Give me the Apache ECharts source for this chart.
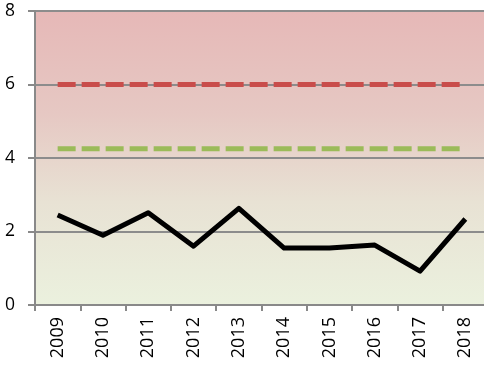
<!DOCTYPE html>
<html>
<head>
<meta charset="utf-8">
<script src="https://cdn.jsdelivr.net/npm/echarts@6/dist/echarts.min.js"></script>
<style>
  html, body { margin: 0; padding: 0; background: #ffffff; overflow: hidden; }
  #chart { width: 488px; height: 365px; }
</style>
</head>
<body>
<div id="chart"></div>
<script>
// Yearly values and reference levels
const years = ['2009', '2010', '2011', '2012', '2013', '2014', '2015', '2016', '2017', '2018'];
const values = [2.45, 1.9, 2.51, 1.6, 2.63, 1.55, 1.55, 1.63, 0.92, 2.34];
const upperLevel = 6;
const lowerLevel = 4.25;
const yTicks = { min: 0, max: 8, interval: 2 };

const upperLine = years.map(() => upperLevel);
const lowerLine = years.map(() => lowerLevel);

const chart = echarts.init(document.getElementById('chart'), null, { renderer: 'canvas' });
const font = '"Open Sans", "Noto Sans", sans-serif';

chart.setOption({
  animation: false,
  grid: {
    left: 35, right: 0, top: 11, bottom: 60,
    show: true,
    borderWidth: 0,
    backgroundColor: new echarts.graphic.LinearGradient(0, 0, 0, 1, [
      { offset: 0, color: '#E6B8B7' },
      { offset: 0.35, color: '#E6C8C3' },
      { offset: 0.65, color: '#E8E2D4' },
      { offset: 1, color: '#EBF1DE' }
    ])
  },
  xAxis: {
    type: 'category',
    data: years,
    boundaryGap: true,
    axisLine: { show: true, lineStyle: { color: '#898989', width: 2 } },
    axisTick: { show: true, length: 6, lineStyle: { color: '#898989', width: 2 } },
    axisLabel: { rotate: 90, color: '#000', fontSize: 18, fontFamily: font, margin: 12 },
    splitLine: { show: false }
  },
  yAxis: {
    type: 'value',
    min: yTicks.min, max: yTicks.max, interval: yTicks.interval,
    axisLine: { show: true, lineStyle: { color: '#898989', width: 2 } },
    axisTick: { show: true, length: 7, lineStyle: { color: '#898989', width: 2 } },
    axisLabel: { color: '#000', fontSize: 17.5, fontFamily: font, margin: 20 },
    splitLine: { show: true, lineStyle: { color: '#8c8c8c', width: 2 } }
  },
  series: [
    {
      type: 'line',
      data: upperLine,
      symbol: 'none',
      lineStyle: { color: '#C94D4B', width: 5, type: [18, 6], cap: 'butt' },
      z: 3
    },
    {
      type: 'line',
      data: lowerLine,
      symbol: 'none',
      lineStyle: { color: '#9BBB59', width: 5, type: [18, 6], cap: 'butt' },
      z: 3
    },
    {
      type: 'line',
      data: values,
      symbol: 'none',
      lineStyle: { color: '#000', width: 5, join: 'round' },
      z: 4
    }
  ]
});
</script>
</body>
</html>
